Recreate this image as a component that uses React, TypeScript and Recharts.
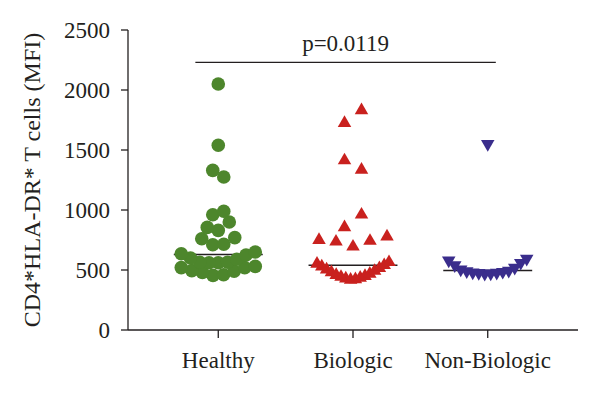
import React from "react";
import { ScatterChart, Scatter, XAxis, YAxis, ReferenceLine } from "recharts";

const groups = ["Healthy", "Biologic", "Non-Biologic"];

// CD4+HLA-DR+ T cells (MFI) per subject
const healthy = [
  2050, 1540, 1330, 1275, 990, 960, 900, 855, 830, 770, 760, 715, 710, 650, 635,
  625, 600, 590, 565, 565, 560, 560, 530, 520, 520, 495, 490, 480, 460, 455,
];
const biologic = [
  1831, 1725, 1413, 1335, 961, 855, 778, 750, 742, 736, 694, 565, 552, 540, 528,
  515, 503, 492, 480, 468, 458, 450, 442, 435, 428, 422, 418,
];
const nonBiologic = [
  1550, 595, 580, 560, 540, 520, 505, 495, 490, 485, 480, 478, 475, 472, 470,
];

const yTicks = [0, 500, 1000, 1500, 2000, 2500];
const pValue = "p=0.0119";
const yLabel = "CD4*HLA-DR* T cells (MFI)";

const W = 600;
const H = 398;
const margin = { top: 30, right: 22, bottom: 0, left: 0 };
const yAxisWidth = 128;
const xAxisHeight = 68;
const xDomain: [number, number] = [0.33, 3.67];
const yDomain: [number, number] = [0, 2500];
const plotW = W - margin.left - margin.right - yAxisWidth;
const plotH = H - margin.top - margin.bottom - xAxisHeight;
const pxPerX = plotW / (xDomain[1] - xDomain[0]);
const pxPerY = plotH / (yDomain[1] - yDomain[0]);

const FONT = "'Liberation Serif', 'Times New Roman', serif";
const INK = "#231f20";

// Prism-style scatter: values are binned vertically, each bin is spread
// sideways (lowest in the middle, alternating out), squeezed to a max width
function spread(values: number[], center: number, binPx: number, step: number, maxW: number) {
  const sorted = [...values].sort((a, b) => a - b);
  const bins: number[][] = [];
  for (const v of sorted) {
    const last = bins[bins.length - 1];
    if (last && (v - last[0]) * pxPerY < binPx) last.push(v);
    else bins.push([v]);
  }
  const out: { x: number; y: number }[] = [];
  bins.forEach((bin, bi) => {
    const n = bin.length;
    const st = n > 1 ? Math.min(step, maxW / (n - 1)) : 0;
    bin.forEach((v, k) => {
      let slot: number;
      if (n % 2) slot = k === 0 ? 0 : Math.ceil(k / 2) * (k % 2 ? 1 : -1);
      else slot = (Math.floor(k / 2) + 0.5) * (k % 2 ? 1 : -1);
      if (bi % 2) slot = -slot;
      out.push({ x: center + (slot * st) / pxPerX, y: v });
    });
  });
  return out;
}

function median(arr: number[]) {
  const s = [...arr].sort((a, b) => a - b);
  const n = s.length;
  return n % 2 ? s[(n - 1) / 2] : (s[n / 2 - 1] + s[n / 2]) / 2;
}

const series = [
  { name: groups[0], values: healthy, color: "#4d862c", shape: "circle", bin: 12, step: 11, maxW: 74 },
  { name: groups[1], values: biologic, color: "#c9211e", shape: "up", bin: 18, step: 17, maxW: 72 },
  { name: groups[2], values: nonBiologic, color: "#3a2d8c", shape: "down", bin: 18, step: 17, maxW: 78 },
];

const makeShape = (kind: string, color: string) => (props: any) => {
  const { cx, cy } = props;
  if (kind === "circle") return <circle cx={cx} cy={cy} r={6.8} fill={color} />;
  const a = 13.5;
  const h = a * 0.866;
  const s = kind === "up" ? 1 : -1;
  const pts = [
    [cx, cy - (s * 2 * h) / 3],
    [cx - a / 2, cy + (s * h) / 3],
    [cx + a / 2, cy + (s * h) / 3],
  ]
    .map((p) => p.join(","))
    .join(" ");
  return <polygon points={pts} fill={color} />;
};

export default function App() {
  return (
    <div style={{ width: W, height: H, background: "#fff" }}>
      <style>{"body{margin:0}"}</style>
      <ScatterChart width={W} height={H} margin={margin}>
        <XAxis
          type="number"
          dataKey="x"
          domain={xDomain}
          ticks={[1, 2, 3]}
          interval={0}
          height={xAxisHeight}
          tickFormatter={(v) => groups[v - 1]}
          tickSize={8}
          tickMargin={14}
          stroke={INK}
          strokeWidth={1.3}
          tick={{ fill: INK, fontSize: 23, fontFamily: FONT }}
        />
        <YAxis
          type="number"
          dataKey="y"
          domain={yDomain}
          ticks={yTicks}
          width={yAxisWidth}
          tickSize={7}
          tickMargin={11}
          stroke={INK}
          strokeWidth={1.3}
          tick={{ fill: INK, fontSize: 23, fontFamily: FONT }}
          label={{
            content: () => (
              <text
                x={32}
                y={180}
                transform="rotate(-90 32 180)"
                textAnchor="middle"
                dominantBaseline="central"
                fill={INK}
                fontSize={24}
                fontFamily={FONT}
              >
                {yLabel}
              </text>
            ),
          }}
        />
        <ReferenceLine
          segment={[
            { x: 0.83, y: 2230 },
            { x: 3.06, y: 2230 },
          ]}
          stroke={INK}
          strokeWidth={1.3}
          label={{
            value: pValue,
            position: "top",
            offset: 11,
            fill: INK,
            fontSize: 23,
            fontFamily: FONT,
          }}
        />
        {series.map((s, i) => (
          <Scatter
            key={s.name}
            name={s.name}
            data={spread(s.values, i + 1, s.bin, s.step, s.maxW)}
            fill={s.color}
            shape={makeShape(s.shape, s.color)}
            isAnimationActive={false}
          />
        ))}
        {series.map((s, i) => (
          <ReferenceLine
            key={"m" + s.name}
            segment={[
              { x: i + 1 - 0.33, y: median(s.values) },
              { x: i + 1 + 0.33, y: median(s.values) },
            ]}
            stroke={INK}
            strokeWidth={1.5}
          />
        ))}
      </ScatterChart>
    </div>
  );
}
